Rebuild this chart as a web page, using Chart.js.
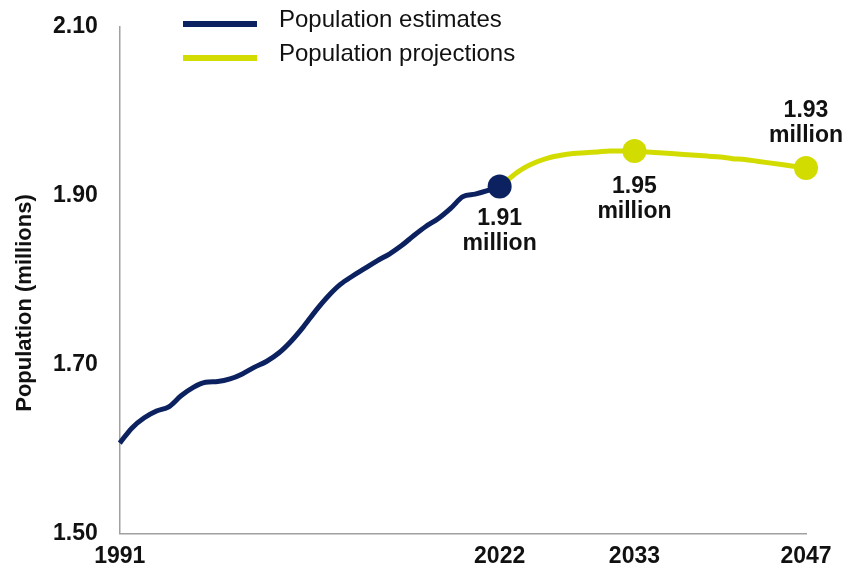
<!DOCTYPE html>
<html>
<head>
<meta charset="utf-8">
<script src="https://cdn.jsdelivr.net/npm/chart.js@4/dist/chart.umd.min.js"></script>
<style>
  html, body { margin: 0; padding: 0; background: #ffffff; }
  #wrap { width: 845px; height: 576px; position: relative; }
</style>
</head>
<body>
<div id="wrap"><canvas id="c" width="845" height="576"></canvas></div>
<script>
// ---- data ----
const estimateYears = [1991,1992,1993,1994,1995,1996,1997,1998,1999,2000,2001,2002,2003,2004,2005,2006,2007,2008,2009,2010,2011,2012,2013,2014,2015,2016,2017,2018,2019,2020,2021,2022];
const estimateValues = [1.607,1.625,1.637,1.645,1.650,1.663,1.673,1.679,1.680,1.683,1.689,1.697,1.704,1.714,1.728,1.745,1.764,1.781,1.795,1.805,1.814,1.823,1.831,1.841,1.853,1.864,1.873,1.885,1.899,1.902,1.906,1.911];
const projectionYears = [2022,2023,2024,2025,2026,2027,2028,2029,2030,2031,2032,2033,2034,2035,2036,2037,2038,2039,2040,2041,2042,2043,2044,2045,2046,2047];
const projectionValues = [1.911,1.923,1.933,1.940,1.945,1.948,1.950,1.951,1.952,1.953,1.953,1.953,1.952,1.951,1.950,1.949,1.948,1.947,1.946,1.944,1.943,1.941,1.939,1.937,1.935,1.933];
const xTickYears = [1991, 2022, 2033, 2047];
const yTickValues = [1.50, 1.70, 1.90, 2.10];
const seriesNames = ['Population estimates', 'Population projections'];
const yAxisTitle = 'Population (millions)';
const markedYears = [2022, 2033, 2047];
const markLabels = [['1.91', 'million'], ['1.95', 'million'], ['1.93', 'million']];

const NAVY = '#0c2160';
const LIME = '#d3dc00';
const FONT = '"Liberation Sans", Arial, sans-serif';

const estPoints = estimateYears.map((x, i) => ({x, y: estimateValues[i]}));
const projPoints = projectionYears.map((x, i) => ({x, y: projectionValues[i]}));

// ---- plugins ----
const customLegend = {
  id: 'customLegend',
  afterDraw(chart) {
    const ctx = chart.ctx;
    const rows = [24, 58];
    ctx.save();
    chart.data.datasets.forEach((ds, i) => {
      const y = rows[i];
      ctx.strokeStyle = ds.borderColor;
      ctx.lineWidth = 6;
      ctx.beginPath();
      ctx.moveTo(183, y);
      ctx.lineTo(257, y);
      ctx.stroke();
      ctx.fillStyle = '#111';
      ctx.font = '24px ' + FONT;
      ctx.textBaseline = 'middle';
      ctx.textAlign = 'left';
      ctx.fillText(ds.label, 279, y - 4);
    });
    ctx.restore();
  }
};

const axisTitle = {
  id: 'axisTitle',
  afterDraw(chart) {
    const ctx = chart.ctx;
    ctx.save();
    ctx.translate(25, 303);
    ctx.rotate(-Math.PI / 2);
    ctx.fillStyle = '#111';
    ctx.font = 'bold 22px ' + FONT;
    ctx.textAlign = 'center';
    ctx.textBaseline = 'middle';
    ctx.fillText(yAxisTitle, 0, 0);
    ctx.restore();
  }
};

const pointLabels = {
  id: 'pointLabels',
  afterDatasetsDraw(chart) {
    const ctx = chart.ctx;
    const xs = chart.scales.x, ys = chart.scales.y;
    const offsets = [[32, 57], [36, 61], [-57, -32]];
    ctx.save();
    ctx.fillStyle = '#111';
    ctx.font = 'bold 23px ' + FONT;
    ctx.textAlign = 'center';
    ctx.textBaseline = 'middle';
    markedYears.forEach((yr, i) => {
      let v;
      const ei = estimateYears.indexOf(yr);
      if (ei >= 0) v = estimateValues[ei];
      else v = projectionValues[projectionYears.indexOf(yr)];
      const px = xs.getPixelForValue(yr);
      const py = ys.getPixelForValue(v);
      ctx.fillText(markLabels[i][0], px, py + offsets[i][0]);
      ctx.fillText(markLabels[i][1], px, py + offsets[i][1]);
    });
    ctx.restore();
  }
};

new Chart(document.getElementById('c'), {
  type: 'line',
  data: {
    datasets: [
      {
        label: seriesNames[0],
        data: estPoints,
        borderColor: NAVY,
        backgroundColor: NAVY,
        borderWidth: 5,
        tension: 0.4,
        cubicInterpolationMode: 'monotone',
        clip: false,
        pointRadius: estimateYears.map(y => markedYears.includes(y) ? 12 : 0),
        pointBackgroundColor: NAVY,
        pointBorderWidth: 0
      },
      {
        label: seriesNames[1],
        data: projPoints,
        borderColor: LIME,
        backgroundColor: LIME,
        borderWidth: 5,
        tension: 0.4,
        cubicInterpolationMode: 'monotone',
        clip: false,
        pointRadius: projectionYears.map(y => (markedYears.includes(y) && y !== 2022) ? 12 : 0),
        pointBackgroundColor: LIME,
        pointBorderWidth: 0
      }
    ]
  },
  options: {
    responsive: false,
    animation: false,
    events: [],
    layout: { padding: { top: 27, right: 39, left: 31, bottom: -3 } },
    plugins: {
      legend: { display: false },
      tooltip: { enabled: false }
    },
    scales: {
      x: {
        type: 'linear',
        min: 1991,
        max: 2047,
        afterBuildTicks(axis) { axis.ticks = xTickYears.map(v => ({value: v})); },
        afterFit(scale) { scale.paddingLeft = 0; scale.paddingRight = 0; },
        grid: { display: false, drawTicks: false },
        border: { display: true, color: '#a0a0a0', width: 1.5 },
        ticks: {
          autoSkip: false,
          maxRotation: 0,
          padding: 9,
          color: '#111',
          font: { family: FONT, size: 23, weight: 'bold' },
          callback: v => String(v)
        }
      },
      y: {
        min: 1.5,
        max: 2.1,
        afterBuildTicks(axis) { axis.ticks = yTickValues.map(v => ({value: v})); },
        afterFit(scale) { scale.paddingTop = 0; scale.paddingBottom = 0; },
        grid: { display: false, drawTicks: false },
        border: { display: true, color: '#a0a0a0', width: 1.5 },
        ticks: {
          padding: 22,
          color: '#111',
          font: { family: FONT, size: 23, weight: 'bold' },
          callback: v => Number(v).toFixed(2)
        },
        title: { display: false }
      }
    }
  },
  plugins: [customLegend, axisTitle, pointLabels]
});
</script>
</body>
</html>
